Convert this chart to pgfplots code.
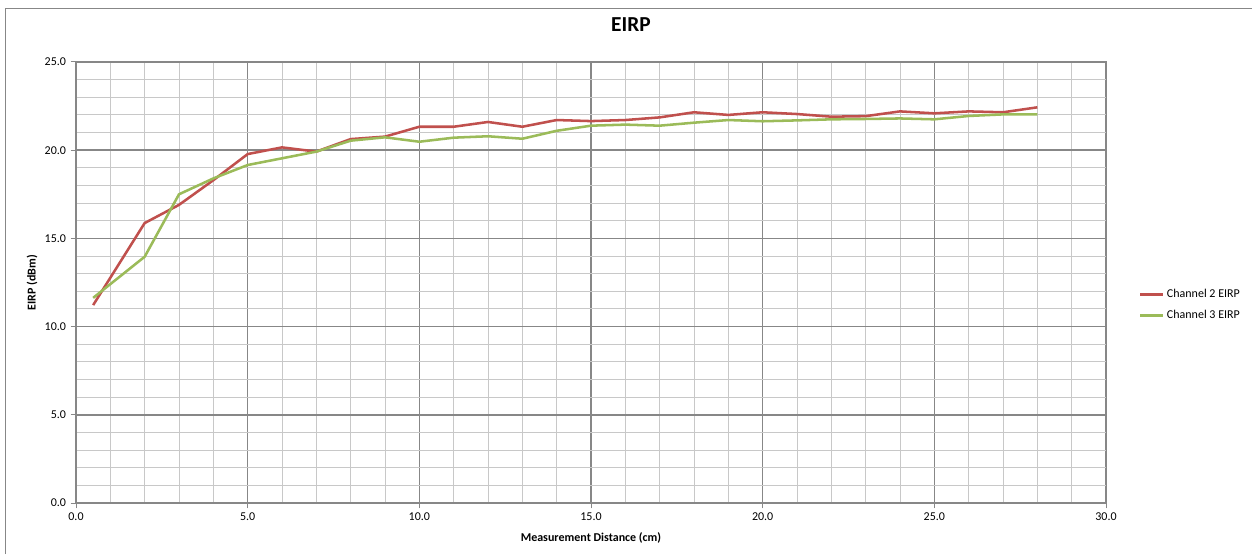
\documentclass[border=0pt]{standalone}
\usepackage{fontspec}
\setmainfont{Carlito}
\usepackage{pgfplots}
\pgfplotsset{compat=1.18}
\definecolor{redline}{HTML}{C0504D}
\definecolor{greenline}{HTML}{9BBB59}
\definecolor{majgrid}{HTML}{878787}
\definecolor{mingrid}{HTML}{C8C8C8}
\begin{document}
\begin{tikzpicture}
\path[use as bounding box] (0pt,0pt) rectangle (939pt,415.5pt);
\draw[majgrid, line width=0.75pt] (3.75pt,0pt) -- (3.75pt,408.75pt) -- (939pt,408.75pt);
\begin{axis}[
  at={(57pt,38.25pt)}, anchor=south west,
  scale only axis, width=772.5pt, height=330.75pt,
  xmin=0, xmax=30, ymin=0, ymax=25,
  xtick={0,5,...,30}, ytick={0,5,...,25},
  minor xtick={0,1,...,30}, minor ytick={0,1,...,25},
  grid=both,
  major grid style={majgrid, line width=1.1pt},
  minor grid style={mingrid, line width=0.75pt},
  axis line style={majgrid, line width=0.75pt},
  tick style={majgrid, line width=0.75pt},
  major tick length=4pt, minor tick length=0pt,
  tick align=outside, tick pos=left,
  /pgf/number format/assume math mode=true,
  /pgf/number format/.cd, fixed, fixed zerofill, precision=1, /pgfplots/.cd,
  ticklabel style={font=\fontsize{9}{10}\selectfont},
  xlabel={Measurement Distance (cm)},
  ylabel={EIRP (dBm)},
  xlabel style={at={(axis description cs:0.5,-0.0794)}, anchor=center, font=\bfseries\fontsize{9}{10}\selectfont},
  ylabel style={at={(axis description cs:-0.0427,0.5)}, anchor=center, font=\bfseries\fontsize{9}{10}\selectfont},
  title={EIRP},
  title style={at={(axis description cs:0.5388,1.0658)}, anchor=center, font=\bfseries\fontsize{16}{18}\selectfont},
  legend style={at={(axis description cs:1.028,0.449)}, anchor=west, draw=none, fill=none,
    font=\fontsize{9}{10}\selectfont, row sep=4pt},
  legend cell align=left,
  legend image code/.code={\draw[#1] (0pt,0pt) -- (17pt,0pt);},
]
\addplot[redline, line width=1.9pt] coordinates {
(0.5,11.22) (2,15.87) (3,16.9) (4,18.3) (5,19.78) (6,20.16) (7,19.92) (8,20.63) (9,20.77)
(10,21.33) (11,21.33) (12,21.6) (13,21.33) (14,21.71) (15,21.65) (16,21.71) (17,21.86)
(18,22.15) (19,22.0) (20,22.15) (21,22.05) (22,21.9) (23,21.93) (24,22.2) (25,22.09)
(26,22.2) (27,22.15) (28,22.43)};
\addlegendentry{Channel 2 EIRP}
\addplot[greenline, line width=1.9pt] coordinates {
(0.5,11.63) (2,13.96) (3,17.5) (4,18.4) (5,19.16) (6,19.54) (7,19.92) (8,20.54) (9,20.73)
(10,20.48) (11,20.71) (12,20.79) (13,20.65) (14,21.1) (15,21.39) (16,21.45) (17,21.39)
(18,21.56) (19,21.71) (20,21.64) (21,21.69) (22,21.75) (23,21.77) (24,21.8) (25,21.75)
(26,21.94) (27,22.03) (28,22.03)};
\addlegendentry{Channel 3 EIRP}
\end{axis}
\end{tikzpicture}
\end{document}
